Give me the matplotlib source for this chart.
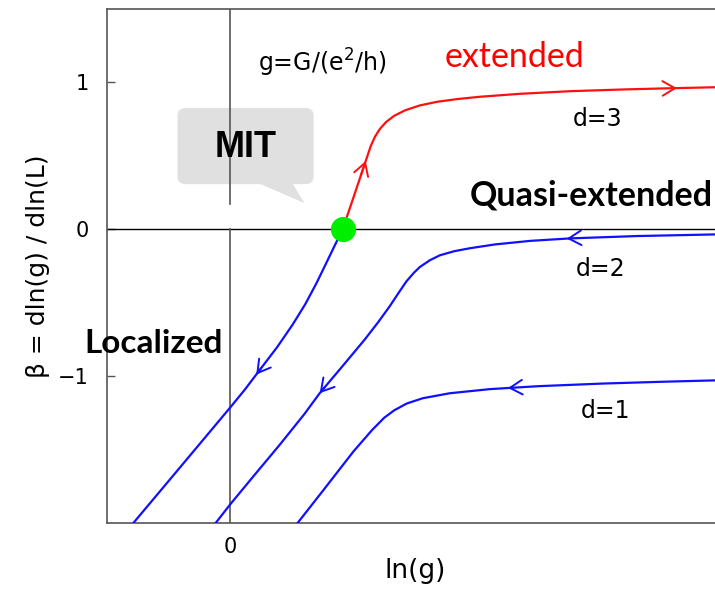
import numpy as np
import matplotlib
matplotlib.use("Agg")
import matplotlib.pyplot as plt
from matplotlib.patches import FancyBboxPatch, Polygon

d3_lng = [-0.786, -0.400, 0.0, 0.120, 0.238, 0.380, 0.507, 0.610, 0.702, 0.780, 0.848, 0.913]
d3_beta = [-2.002, -1.616, -1.215, -1.092, -0.961, -0.805, -0.650, -0.510, -0.365, -0.230, -0.112, 0.0]
d3_up_lng = [0.913, 1.000, 1.080, 1.140, 1.175, 1.215, 1.265, 1.330, 1.420, 1.539, 1.680,
             1.850, 2.027, 2.350, 2.759, 3.200, 3.572, 4.000]
d3_up_beta = [0.0, 0.215, 0.415, 0.565, 0.630, 0.683, 0.730, 0.772, 0.810, 0.843, 0.868,
              0.887, 0.902, 0.922, 0.940, 0.952, 0.960, 0.968]

d2_lng = [-0.118, 0.0, 0.200, 0.401, 0.600, 0.726, 0.900, 1.092, 1.200, 1.295, 1.370, 1.431,
          1.490, 1.539, 1.620, 1.702, 1.820, 1.946, 2.150, 2.434, 2.759, 3.300, 3.936, 4.000]
d2_beta = [-2.002, -1.875, -1.672, -1.470, -1.262, -1.118, -0.945, -0.752, -0.635, -0.525,
           -0.430, -0.355, -0.298, -0.258, -0.212, -0.178, -0.150, -0.130, -0.104, -0.080,
           -0.063, -0.047, -0.036, -0.035]

d1_lng = [0.547, 0.750, 1.000, 1.150, 1.250, 1.330, 1.433, 1.563, 1.783, 2.108, 2.500,
          3.027, 3.500, 4.000]
d1_beta = [-2.002, -1.785, -1.515, -1.370, -1.285, -1.235, -1.188, -1.152, -1.118, -1.090,
           -1.070, -1.052, -1.040, -1.029]

# critical point (MIT)
g_c = 0.913

# flow arrows: (curve, ln g position, direction of flow along ln g)
arrow_marks = [
    ("d3", 0.211, -1),
    ("d3up", 1.10, 1),
    ("d3up", 3.626, 1),
    ("d2", 2.732, -1),
    ("d2", 0.726, -1),
    ("d1", 2.254, -1),
]

yticks = [-1, 0, 1]
ytick_labels = ["\u22121", "0", "1"]

BLUE = "#1010ff"
RED = "#ff1010"
FRAME = "#555555"

fig = plt.figure(figsize=(7.15, 5.92), dpi=100, facecolor="white")
ax = fig.add_axes([0.1497, 0.1171, 0.8615, 0.8677])
ax.set_xlim(-1, 4)
ax.set_ylim(-2, 1.5)

for side in ["left", "top", "bottom", "right"]:
    ax.spines[side].set_color(FRAME)
    ax.spines[side].set_linewidth(1.2)

# axis cross lines
ax.axhline(0, color="black", lw=1.0, zorder=2)
ax.axvline(0, ymax=2.0 / 3.5, color=FRAME, lw=1.2, zorder=3)
ax.axvline(0, ymin=2.17 / 3.5, color=FRAME, lw=1.2, zorder=3)

curves = {
    "d3": (d3_lng, d3_beta, BLUE),
    "d3up": (d3_up_lng, d3_up_beta, RED),
    "d2": (d2_lng, d2_beta, BLUE),
    "d1": (d1_lng, d1_beta, BLUE),
}
for key, (xs, ys, col) in curves.items():
    ax.plot(xs, ys, color=col, lw=1.6, zorder=4, solid_joinstyle="round")

for key, xpos, sgn in arrow_marks:
    xs, ys, col = curves[key]
    tip = (xpos, np.interp(xpos, xs, ys))
    back = xpos - sgn * 0.04
    tail = (back, np.interp(back, xs, ys))
    ax.annotate("", xy=tip, xytext=tail,
                arrowprops=dict(arrowstyle="->,head_length=0.6,head_width=0.35",
                                color=col, lw=1.4, shrinkA=0, shrinkB=0,
                                mutation_scale=15),
                zorder=5)

ax.scatter([g_c], [0], s=330, color="#00ee00", zorder=6, linewidths=0)

# speech bubble
bubble = FancyBboxPatch((-0.428 + 0.065, 0.307 + 0.054), 1.105 - 0.13, 0.518 - 0.108,
                        boxstyle="round,pad=0.065,rounding_size=0.065",
                        mutation_aspect=0.838, facecolor="#e0e0e0",
                        edgecolor="none", zorder=2)
ax.add_patch(bubble)
ax.add_patch(Polygon([(0.238, 0.310), (0.506, 0.310), (0.604, 0.177)],
                     closed=True, facecolor="#e0e0e0", edgecolor="none", zorder=2))
ax.text(0.128, 0.489, "MIT", fontsize=26, fontweight="bold",
        family="Liberation Sans", ha="center", va="baseline", zorder=7)

# annotations
ax.text(0.224, 1.072, "g=G/(e$^2$/h)", fontsize=17, ha="left", va="baseline")
ax.text(1.737, 1.106, "extended", fontsize=24.5, color="red", family="Lato",
        ha="left", va="baseline")
ax.text(2.78, 0.702, "d=3", fontsize=17, ha="left", va="baseline")
ax.text(2.807, -0.320, "d=2", fontsize=17, ha="left", va="baseline")
ax.text(2.848, -1.290, "d=1", fontsize=17, ha="left", va="baseline")
ax.text(1.945, 0.164, "Quasi-extended", fontsize=24.5, fontweight="bold",
        family="Lato", ha="left", va="baseline", zorder=7, clip_on=False)
ax.text(-1.184, -0.843, "Localized", fontsize=24, fontweight="bold",
        family="Lato", ha="left", va="baseline", zorder=7, clip_on=False)

ax.set_yticks(yticks)
ax.set_yticklabels(ytick_labels)
ax.set_xticks([0])
ax.set_xticklabels(["0"])
ax.tick_params(axis="both", direction="in", length=6, width=1.0, color=FRAME,
               labelsize=15, pad=13)
ax.tick_params(axis="x", length=0, pad=10)

ax.set_xlabel("ln(g)", fontsize=19, labelpad=1)
ax.set_ylabel("\u03b2 = dln(g) / dln(L)", fontsize=18, labelpad=6)

fig.savefig("out.png", dpi=100, facecolor="white")
